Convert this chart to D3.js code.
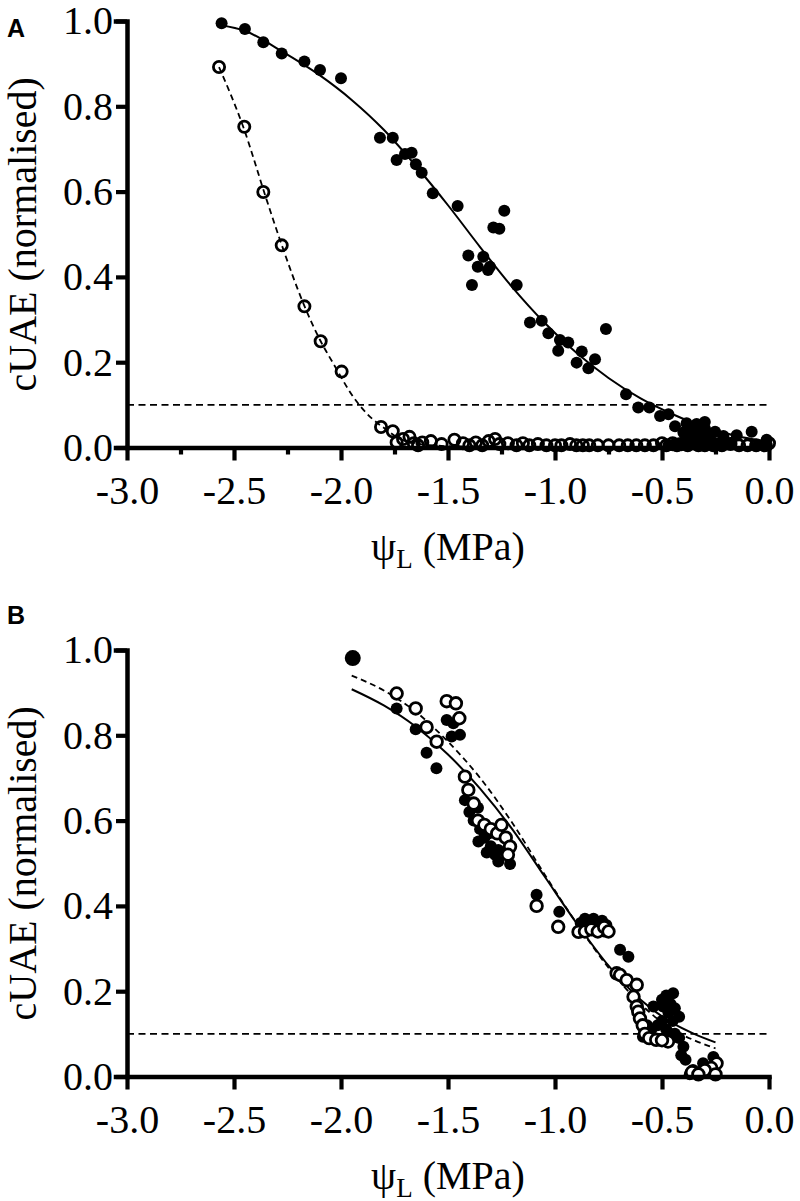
<!DOCTYPE html>
<html><head><meta charset="utf-8">
<script src="https://cdn.jsdelivr.net/npm/d3@7"></script>
<style>body{margin:0;background:#fff}svg{display:block}</style>
</head><body>
<svg id="chart" width="800" height="1201"></svg>
<script>
// ---------- axis ticks ----------
const xTicks = [-3, -2.5, -2, -1.5, -1, -0.5, 0];
const xTickLabels = ["-3.0", "-2.5", "-2.0", "-1.5", "-1.0", "-0.5", "0.0"];
const xMinorTicksA = [-2.75, -2.25, -1.75, -1.25, -0.75, -0.25];
const yTicks = [0, 0.2, 0.4, 0.6, 0.8, 1.0];
const yTickLabels = ["0.0", "0.2", "0.4", "0.6", "0.8", "1.0"];
const threshold = 0.1;
const yTitle = "cUAE (normalised)";
const panelLabels = ["A", "B"];

// ---------- Panel A data ----------
const closedAx = [-2.558,-2.449,-2.363,-2.277,-2.171,-2.098,-2.000,-1.818,-1.758,-1.740,-1.701,-1.670,-1.650,-1.623,-1.571,-1.455,-1.237,-1.288,-1.260,-1.405,-1.335,-1.361,-1.304,-1.313,-1.388,-1.179,-1.117,-1.062,-1.031,-0.977,-0.938,-0.985,-0.875,-0.899,-0.844,-0.813,-0.762,-0.668,-0.611,-0.559,-0.509,-0.470,-0.439,-0.385,-0.338,-0.355,-0.252,-0.213,-0.151,-0.081,-0.011,-0.40,-0.38,-0.37,-0.36,-0.35,-0.34,-0.33,-0.32,-0.31,-0.30,-0.29,-0.28,-0.30,-0.27,-0.42,-0.45,-0.47,-0.44,-0.41,-0.26,-0.24,-0.22,-0.18,-0.05,-0.01];
const closedAy = [0.995,0.981,0.950,0.924,0.905,0.885,0.866,0.726,0.726,0.674,0.688,0.691,0.664,0.644,0.596,0.566,0.555,0.516,0.513,0.450,0.447,0.424,0.424,0.416,0.381,0.381,0.293,0.297,0.268,0.252,0.246,0.227,0.225,0.199,0.186,0.207,0.278,0.125,0.094,0.094,0.074,0.078,0.050,0.057,0.055,0.034,0.037,0.027,0.029,0.037,0.018,0.035,0.020,0.045,0.010,0.050,0.020,0.040,0.005,0.025,0.045,0.010,0.030,0.060,0.015,0.010,0.005,0.005,0.008,0.005,0.005,0.010,0.004,0.010,0.005,0.005];
const openAx = [-2.570,-2.452,-2.363,-2.277,-2.171,-2.095,-1.997,-1.813,-1.758,-1.740,-1.71,-1.68,-1.66,-1.64,-1.62,-1.58,-1.53,-1.47,-1.43,-1.40,-1.37,-1.34,-1.31,-1.28,-1.26,-1.22,-1.18,-1.15,-1.12,-1.08,-1.04,-1.00,-0.97,-0.93,-0.90,-0.87,-0.84,-0.80,-0.75,-0.70,-0.66,-0.62,-0.58,-0.54,-0.50,-0.48,-0.45,-0.43,-0.40,-0.38,-0.35,-0.33,-0.30,-0.26,-0.22,-0.18,-0.14,-0.10,-0.06,-0.02,0.0];
const openAy = [0.892,0.752,0.599,0.474,0.331,0.249,0.178,0.048,0.038,0.012,0.020,0.025,0.010,0.005,0.012,0.015,0.008,0.018,0.010,0.005,0.012,0.005,0.015,0.020,0.008,0.010,0.005,0.010,0.005,0.008,0.005,0.005,0.005,0.008,0.005,0.005,0.005,0.005,0.005,0.005,0.005,0.005,0.005,0.005,0.010,0.005,0.010,0.005,0.010,0.005,0.010,0.005,0.005,0.005,0.005,0.008,0.005,0.005,0.005,0.005,0.010];
// fitted curves
const fitClosedAx = [-2.56,-2.45,-2.28,-2.10,-1.95,-1.80,-1.65,-1.50,-1.35,-1.20,-1.05,-0.90,-0.75,-0.60,-0.45,-0.30,-0.15,0.0];
const fitClosedAy = [0.99,0.977,0.93,0.873,0.815,0.745,0.66,0.568,0.47,0.376,0.293,0.222,0.163,0.115,0.078,0.048,0.027,0.013];
const fitOpenAx = [-2.57,-2.457,-2.347,-2.277,-2.176,-2.098,-2.036,-1.943,-1.880,-1.786,-1.724,-1.60,-1.40,-1.0,-0.5,0.0];
const fitOpenAy = [0.892,0.752,0.580,0.475,0.338,0.252,0.197,0.119,0.080,0.041,0.020,0.006,0.002,0.001,0.001,0.001];

// ---------- Panel B data ----------
const closedBx = [-1.945,-1.740,-1.651,-1.600,-1.554,-1.506,-1.475,-1.483,-1.444,-1.421,-1.40,-1.38,-1.36,-1.35,-1.33,-1.31,-1.30,-1.28,-1.358,-1.319,-1.265,-1.265,-1.21,-1.086,-0.98,-0.88,-0.86,-0.84,-0.82,-0.80,-0.78,-0.76,-0.85,-0.81,-0.77,-0.696,-0.657,-0.54,-0.50,-0.48,-0.448,-0.46,-0.495,-0.47,-0.44,-0.45,-0.42,-0.50,-0.52,-0.55,-0.589,-0.57,-0.48,-0.44,-0.42,-0.40,-0.39,-0.355,-0.308,-0.26,-0.37,-0.33,-0.29,-0.41];
const closedBy = [0.981,0.863,0.814,0.759,0.723,0.836,0.828,0.797,0.801,0.648,0.620,0.600,0.630,0.580,0.560,0.570,0.540,0.520,0.551,0.525,0.531,0.504,0.498,0.426,0.386,0.360,0.370,0.365,0.370,0.360,0.365,0.355,0.345,0.350,0.340,0.297,0.281,0.164,0.180,0.190,0.195,0.170,0.164,0.150,0.160,0.130,0.140,0.130,0.120,0.110,0.093,0.120,0.110,0.100,0.090,0.070,0.039,0.015,0.031,0.046,0.005,0.010,0.015,0.050];
const closedBsize = closedBx.map((d, i) => i === 0 ? 8 : 6);
const openBx = [-1.74,-1.651,-1.60,-1.553,-1.506,-1.463,-1.447,-1.421,-1.405,-1.38,-1.36,-1.33,-1.30,-1.27,-1.25,-1.23,-1.21,-1.22,-1.086,-0.985,-0.89,-0.86,-0.83,-0.80,-0.77,-0.75,-0.712,-0.696,-0.665,-0.618,-0.633,-0.618,-0.611,-0.603,-0.59,-0.58,-0.56,-0.527,-0.472,-0.50,-0.245,-0.27,-0.30,-0.36,-0.33,-0.25];
const openBy = [0.898,0.863,0.819,0.785,0.880,0.875,0.840,0.703,0.672,0.640,0.600,0.590,0.580,0.570,0.590,0.560,0.539,0.520,0.400,0.351,0.339,0.340,0.345,0.340,0.350,0.340,0.242,0.238,0.226,0.215,0.187,0.164,0.152,0.136,0.120,0.100,0.090,0.086,0.082,0.085,0.031,0.020,0.015,0.010,0.005,0.005];
const fitClosedBx = [-1.95,-1.80,-1.65,-1.50,-1.35,-1.20,-1.05,-0.90,-0.75,-0.60,-0.45,-0.35,-0.25];
const fitClosedBy = [0.908,0.87,0.82,0.755,0.675,0.58,0.47,0.36,0.26,0.18,0.125,0.10,0.08];
const fitOpenBx = [-1.95,-1.80,-1.65,-1.50,-1.35,-1.20,-1.05,-0.90,-0.75,-0.60,-0.45,-0.35,-0.25];
const fitOpenBy = [0.94,0.905,0.855,0.785,0.70,0.595,0.475,0.36,0.255,0.17,0.11,0.085,0.066];

// ---------- drawing ----------
const svg = d3.select("#chart");
const FONT = "'Liberation Serif','Times New Roman',serif";
const x = d3.scaleLinear().domain([-3, 0]).range([127, 769]);

function zip(xs, ys) { return xs.map((v, i) => [v, ys[i]]); }

function panel(cfg) {
  const y = d3.scaleLinear().domain([0, 1]).range([cfg.bottom, cfg.top]);
  const g = svg.append("g");

  // threshold line
  g.append("line")
    .attr("x1", x(-3)).attr("x2", x(0))
    .attr("y1", y(threshold)).attr("y2", y(threshold))
    .attr("stroke", "#000").attr("stroke-width", 1.8)
    .attr("stroke-dasharray", "7,4.5");

  // fitted curves
  const line = d3.line().x(d => x(d[0])).y(d => y(d[1])).curve(d3.curveMonotoneX);
  g.append("path").datum(zip(cfg.fitOx, cfg.fitOy))
    .attr("d", line).attr("fill", "none").attr("stroke", "#000")
    .attr("stroke-width", 1.8).attr("stroke-dasharray", "6,4");
  g.append("path").datum(zip(cfg.fitCx, cfg.fitCy))
    .attr("d", line).attr("fill", "none").attr("stroke", "#000")
    .attr("stroke-width", 2);

  // points
  const drawOpen = () => g.append("g").selectAll("circle")
    .data(zip(cfg.openX, cfg.openY)).join("circle")
    .attr("cx", d => x(d[0])).attr("cy", d => y(d[1]))
    .attr("r", cfg.openR).attr("fill", cfg.openFill).attr("stroke", "#000")
    .attr("stroke-width", 2.8);
  const drawClosed = () => g.append("g").selectAll("circle")
    .data(cfg.closedX.map((v, i) => [v, cfg.closedY[i], cfg.closedR ? cfg.closedR[i] : 6]))
    .join("circle")
    .attr("cx", d => x(d[0])).attr("cy", d => y(d[1]))
    .attr("r", d => d[2]).attr("fill", "#000");
  if (cfg.openFirst) { drawOpen(); drawClosed(); } else { drawClosed(); drawOpen(); }

  // y axis
  const yAxis = d3.axisLeft(y).tickValues(yTicks)
    .tickFormat((d, i) => yTickLabels[i]).tickSize(11).tickSizeOuter(11).tickPadding(5);
  const ya = g.append("g").attr("transform", `translate(${x(-3)},0)`).call(yAxis);
  // x axis
  const xAxis = d3.axisBottom(x).tickValues(xTicks)
    .tickFormat((d, i) => xTickLabels[i]).tickSize(13).tickSizeOuter(0).tickPadding(5);
  const xa = g.append("g").attr("transform", `translate(0,${y(0)})`).call(xAxis);
  if (cfg.minor) {
    g.append("g").attr("transform", `translate(0,${y(0)})`)
      .call(d3.axisBottom(x).tickValues(xMinorTicksA).tickSize(7).tickSizeOuter(0).tickFormat(""))
      .call(s => s.select(".domain").remove());
  }
  g.selectAll(".domain").attr("stroke-width", 4.5).attr("stroke-linecap", "square");
  g.selectAll(".tick line").attr("stroke-width", 4.2);
  g.selectAll(".tick text").attr("font-family", FONT).attr("font-size", 40).attr("fill", "#000");
  xa.selectAll(".tick text").attr("dy", null).attr("y", 56).attr("dominant-baseline", "auto");
  ya.selectAll(".tick text").attr("x", -14);

  // axis titles
  const xt = g.append("text").attr("x", (x(-3) + x(0)) / 2).attr("y", cfg.bottom + 112)
    .attr("text-anchor", "middle").attr("font-family", FONT).attr("font-size", 40);
  xt.append("tspan").text("ψ");
  xt.append("tspan").attr("font-size", 27).attr("dy", 8).text("L");
  xt.append("tspan").attr("dy", -8).text(" (MPa)");

  g.append("text").attr("transform", `translate(36,${(cfg.top + cfg.bottom) / 2}) rotate(-90)`)
    .attr("text-anchor", "middle").attr("font-family", FONT).attr("font-size", 40)
    .text(yTitle);

  g.append("text").attr("x", 7).attr("y", cfg.labelY)
    .attr("font-family", "'Liberation Sans',Arial,sans-serif").attr("font-weight", "bold")
    .attr("font-size", 25).text(cfg.label);
}

panel({
  top: 21, bottom: 447.5, label: panelLabels[0], labelY: 37, minor: true,
  closedX: closedAx, closedY: closedAy, openX: openAx, openY: openAy,
  fitCx: fitClosedAx, fitCy: fitClosedAy, fitOx: fitOpenAx, fitOy: fitOpenAy,
  openR: 5.6, openFill: "none", openFirst: true
});
panel({
  top: 650, bottom: 1076.5, label: panelLabels[1], labelY: 624, minor: false,
  closedX: closedBx, closedY: closedBy, closedR: closedBsize, openX: openBx, openY: openBy,
  fitCx: fitClosedBx, fitCy: fitClosedBy, fitOx: fitOpenBx, fitOy: fitOpenBy,
  openR: 5.8, openFill: "#fff", openFirst: false
});
</script>
</body></html>
